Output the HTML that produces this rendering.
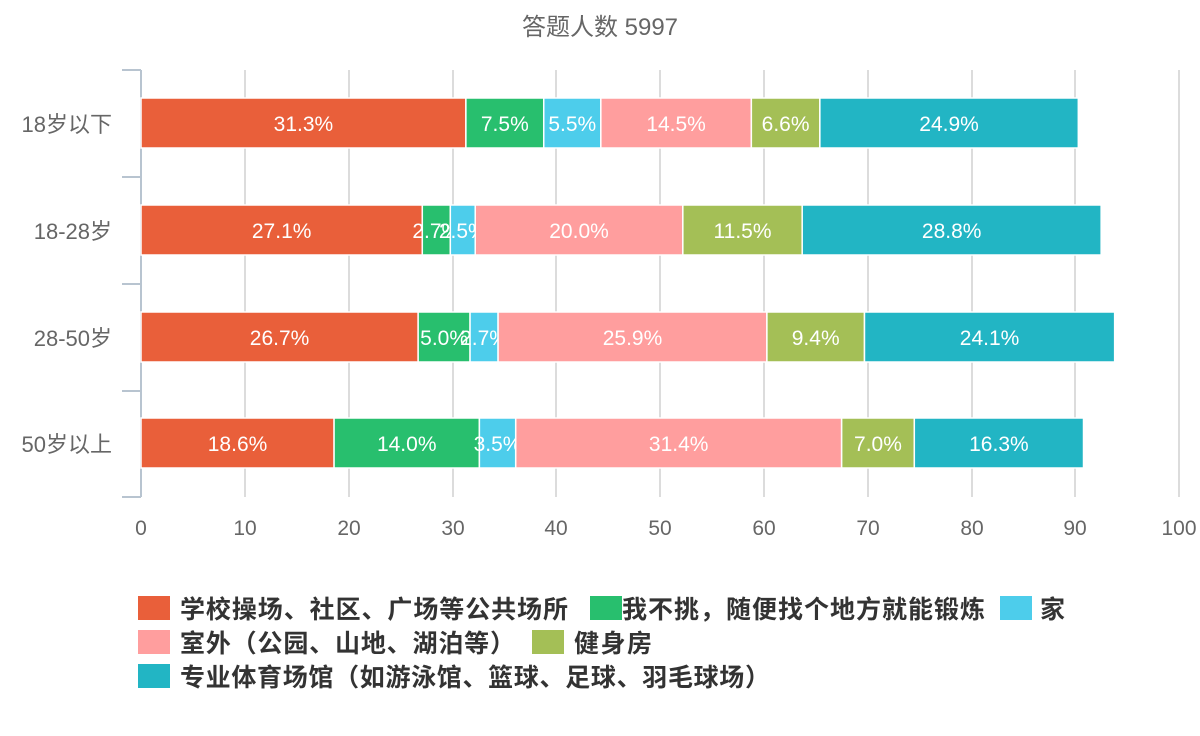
<!DOCTYPE html>
<html><head><meta charset="utf-8"><style>
body{margin:0;background:#fff;}
svg{display:block;font-family:"Liberation Sans","Noto Sans CJK SC",sans-serif;}
</style></head><body>
<svg width="1200" height="736" viewBox="0 0 1200 736">
<text x="600" y="35" text-anchor="middle" font-size="24" fill="#666">答题人数 5997</text>
<g stroke="#d0d0d0" stroke-width="1.5">
<line x1="245" y1="70" x2="245" y2="497"/><line x1="349" y1="70" x2="349" y2="497"/><line x1="453" y1="70" x2="453" y2="497"/><line x1="556" y1="70" x2="556" y2="497"/><line x1="660" y1="70" x2="660" y2="497"/><line x1="764" y1="70" x2="764" y2="497"/><line x1="868" y1="70" x2="868" y2="497"/><line x1="972" y1="70" x2="972" y2="497"/><line x1="1075" y1="70" x2="1075" y2="497"/><line x1="1179" y1="70" x2="1179" y2="497"/>
</g>
<g stroke="#b8c4d0" stroke-width="2">
<line x1="141" y1="70" x2="141" y2="497"/>
<line x1="122" y1="70" x2="141" y2="70"/><line x1="122" y1="177" x2="141" y2="177"/><line x1="122" y1="284" x2="141" y2="284"/><line x1="122" y1="391" x2="141" y2="391"/><line x1="122" y1="497" x2="141" y2="497"/>
</g>
<g font-size="21" fill="#666" text-anchor="middle">
<text x="141" y="535">0</text><text x="245" y="535">10</text><text x="349" y="535">20</text><text x="453" y="535">30</text><text x="556" y="535">40</text><text x="660" y="535">50</text><text x="764" y="535">60</text><text x="868" y="535">70</text><text x="972" y="535">80</text><text x="1075" y="535">90</text><text x="1179" y="535">100</text>
</g>
<g font-size="22" fill="#666" text-anchor="end">
<text x="112" y="132">18岁以下</text><text x="112" y="239">18-28岁</text><text x="112" y="346">28-50岁</text><text x="112" y="452">50岁以上</text>
</g>
<g id="bars" stroke="#fff" stroke-width="1.5" font-size="21"></g>
<g font-size="25" font-weight="bold" fill="#333" lengthAdjust="spacing">
<rect x="138" y="596" width="32" height="24" fill="#e95f3a"/><text x="180" y="618" textLength="388">学校操场、社区、广场等公共场所</text>
<rect x="590" y="596" width="32" height="24" fill="#28bf6e"/><text x="622" y="618" textLength="363">我不挑，随便找个地方就能锻炼</text>
<rect x="1000" y="596" width="32" height="24" fill="#4dcdeb"/><text x="1040" y="618">家</text>
<rect x="138" y="630" width="32" height="24" fill="#ff9e9e"/><text x="180" y="652" textLength="335">室外（公园、山地、湖泊等）</text>
<rect x="532" y="630" width="32" height="24" fill="#a4bf56"/><text x="574" y="652" textLength="78">健身房</text>
<rect x="138" y="664" width="32" height="24" fill="#22b5c4"/><text x="180" y="686" textLength="590">专业体育场馆（如游泳馆、篮球、足球、羽毛球场）</text>
</g>
</svg>
<script>
var cols=["#e95f3a","#28bf6e","#4dcdeb","#ff9e9e","#a4bf56","#22b5c4"];
var rows=[[[31.3,"31.3%"],[7.5,"7.5%"],[5.5,"5.5%"],[14.5,"14.5%"],[6.6,"6.6%"],[24.9,"24.9%"]],
[[27.1,"27.1%"],[2.7,"2.7%"],[2.4,"2.5%"],[20.0,"20.0%"],[11.5,"11.5%"],[28.8,"28.8%"]],
[[26.7,"26.7%"],[5.0,"5.0%"],[2.7,"2.7%"],[25.9,"25.9%"],[9.4,"9.4%"],[24.1,"24.1%"]],
[[18.6,"18.6%"],[14.0,"14.0%"],[3.5,"3.5%"],[31.4,"31.4%"],[7.0,"7.0%"],[16.3,"16.3%"]]];
var ys=[98,205,312,418],g=document.getElementById("bars"),s="",k=10.38;
rows.forEach(function(r,i){var c=0;r.forEach(function(v,j){var x=141+c*k,w=v[0]*k;
s+='<rect x="'+x+'" y="'+ys[i]+'" width="'+w+'" height="50" fill="'+cols[j]+'"/>';
s+='<text x="'+(x+w/2)+'" y="'+(ys[i]+33)+'" text-anchor="middle" fill="#fff" stroke="none">'+v[1]+'</text>';c+=v[0];});});
g.innerHTML=s;
</script>
</body></html>
